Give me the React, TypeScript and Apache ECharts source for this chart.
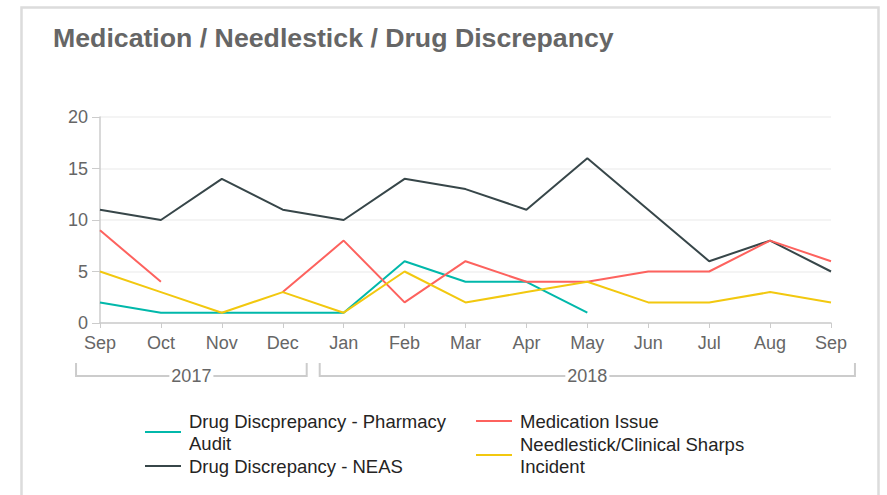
import React, { useEffect, useRef } from "react";
import * as echarts from "echarts";

const months = ["Sep", "Oct", "Nov", "Dec", "Jan", "Feb", "Mar", "Apr", "May", "Jun", "Jul", "Aug", "Sep"];
const yearGroups = [
  { year: "2017", start: 0, end: 3 },
  { year: "2018", start: 4, end: 12 },
];
const pharmacyAudit = [2, 1, 1, 1, 1, 6, 4, 4, 1, null, null, null, null];
const neas = [11, 10, 14, 11, 10, 14, 13, 11, 16, 11, 6, 8, 5];
const medicationIssue = [9, 4, null, 3, 8, 2, 6, 4, 4, 5, 5, 8, 6];
const needlestick = [5, 3, 1, 3, 1, 5, 2, 3, 4, 2, 2, 3, 2];
const yTicks = [0, 5, 10, 15, 20];

const NAME_PA = "Drug Discprepancy - Pharmacy Audit";
const NAME_NEAS = "Drug Discrepancy - NEAS";
const NAME_MED = "Medication Issue";
const NAME_NS = "Needlestick/Clinical Sharps Incident";

const wrapped: Record<string, string> = {
  [NAME_PA]: "Drug Discprepancy - Pharmacy\nAudit",
  [NAME_NEAS]: NAME_NEAS,
  [NAME_MED]: NAME_MED,
  [NAME_NS]: "Needlestick/Clinical Sharps\nIncident",
};

const FONT = "'Liberation Sans', Arial, sans-serif";

export default function App() {
  const ref = useRef<HTMLDivElement>(null);
  useEffect(() => {
    if (!ref.current) return;
    const chart = echarts.init(ref.current, null, { renderer: "svg" });
    const lineSeries = (name: string, data: (number | null)[], color: string) => ({
      name,
      type: "line",
      data,
      symbol: "none",
      connectNulls: false,
      lineStyle: { color, width: 2 },
      itemStyle: { color },
      z: 3,
    });
    const legendCommon = {
      orient: "vertical",
      top: 410,
      padding: 0,
      itemGap: 1,
      itemWidth: 36,
      itemHeight: 2,
      icon: "rect",
      formatter: (n: string) => wrapped[n] || n,
      textStyle: {
        fontFamily: FONT,
        fontSize: 18.5,
        lineHeight: 22,
        color: "#252423",
        padding: [0, 0, 0, 3],
      },
    };
    chart.setOption({
      animation: false,
      textStyle: { fontFamily: FONT },
      title: {
        text: "Medication / Needlestick / Drug Discrepancy",
        left: 53,
        top: 24,
        padding: 0,
        textStyle: { fontFamily: FONT, fontSize: 26.7, fontWeight: "bold", color: "#666666" },
      },
      graphic: [
        {
          type: "rect",
          shape: { x: 21.5, y: 7.5, width: 857, height: 520 },
          style: { fill: "none", stroke: "#dcdcdc", lineWidth: 2.5 },
          silent: true,
          z: -10,
        },
      ],
      legend: [
        { ...legendCommon, left: 145, data: [NAME_PA, NAME_NEAS] },
        { ...legendCommon, left: 476, data: [NAME_MED, NAME_NS] },
      ],
      grid: { left: 100, right: 56, top: 117, bottom: 172, containLabel: false },
      xAxis: {
        type: "category",
        data: months,
        boundaryGap: false,
        axisLine: { lineStyle: { color: "#cccccc", width: 1.5 } },
        axisTick: { show: true, length: 5, lineStyle: { color: "#cccccc" } },
        axisLabel: { color: "#666666", fontSize: 18, margin: 11, fontFamily: FONT },
        splitLine: { show: false },
      },
      yAxis: {
        type: "value",
        min: 0,
        max: 20,
        interval: 5,
        axisLine: { show: true, lineStyle: { color: "#cccccc", width: 1.5 } },
        axisTick: { show: true, length: 8, lineStyle: { color: "#cccccc" } },
        axisLabel: {
          color: "#666666",
          fontSize: 18,
          margin: 12,
          fontFamily: FONT,
          formatter: (v: number) => (yTicks.includes(v) ? String(v) : ""),
        },
        splitLine: { show: true, lineStyle: { color: "#f1f1f1", width: 1.5 } },
      },
      series: [
        lineSeries(NAME_PA, pharmacyAudit, "#01B8AA"),
        lineSeries(NAME_NEAS, neas, "#374649"),
        lineSeries(NAME_MED, medicationIssue, "#FD625E"),
        lineSeries(NAME_NS, needlestick, "#F2C80F"),
        {
          type: "custom",
          name: "years",
          silent: true,
          clip: false,
          data: yearGroups.map((g) => [g.start, 0]),
          renderItem: (params: any, api: any) => {
            const g = yearGroups[params.dataIndex];
            const band = api.size([1, 0])[0];
            const p0 = api.coord([g.start, 0]);
            const p1 = api.coord([g.end, 0]);
            const x0 = p0[0] - band / 2 + 6.5;
            const x1 = p1[0] + band / 2 - 6.5;
            const y = p0[1] + 53;
            const cx = (x0 + x1) / 2;
            return {
              type: "group",
              children: [
                {
                  type: "polyline",
                  shape: { points: [[x0, y - 13], [x0, y], [x1, y], [x1, y - 13]] },
                  style: { fill: "none", stroke: "#cccccc", lineWidth: 2 },
                },
                {
                  type: "text",
                  x: cx,
                  y: y,
                  style: {
                    text: g.year,
                    fill: "#666666",
                    font: `18px ${FONT}`,
                    align: "center",
                    verticalAlign: "middle",
                    backgroundColor: "#ffffff",
                    padding: [0, 2],
                  },
                },
              ],
            };
          },
        },
      ],
    });
    return () => chart.dispose();
  }, []);
  return (
    <div
      ref={ref}
      style={{ position: "fixed", left: 0, top: 0, width: 887, height: 495, background: "#ffffff" }}
    />
  );
}
